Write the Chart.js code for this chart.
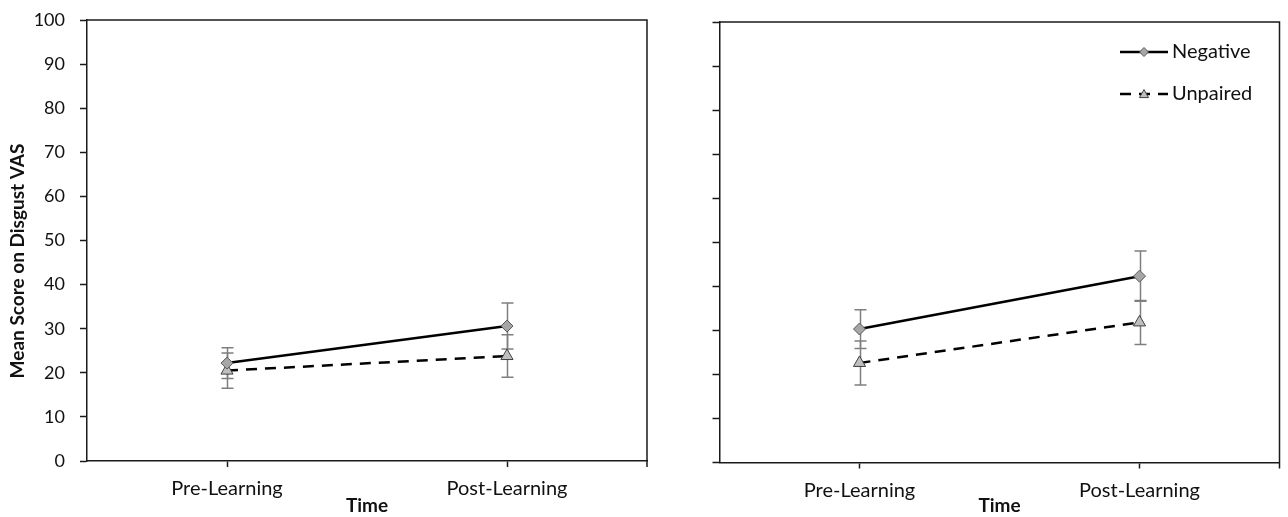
<!DOCTYPE html>
<html><head><meta charset="utf-8">
<script src="https://cdn.jsdelivr.net/npm/chart.js@4"></script>
<style>
html,body{margin:0;padding:0;background:#fff;width:1288px;height:517px;overflow:hidden;}
canvas{position:absolute;top:0;}
#c1{left:0;} #c2{left:660px;}
</style></head><body>
<canvas id="c1" width="660" height="517"></canvas>
<canvas id="c2" width="628" height="517"></canvas>
<script>
const categories = ['Pre-Learning', 'Post-Learning'];
const seriesNames = ['Negative', 'Unpaired'];
const yTicks = [0,10,20,30,40,50,60,70,80,90,100];
const leftNegative = [22.2, 30.6];
const leftUnpaired = [20.5, 23.8];
const leftNegativeErr = [3.5, 5.2];
const leftUnpairedErr = [4.0, 4.8];
const rightNegative = [30.3, 42.3];
const rightUnpaired = [22.6, 31.8];
const rightNegativeErr = [4.4, 5.7];
const rightUnpairedErr = [5.0, 5.0];
const yTitle = 'Mean Score on Disgust VAS';
const xTitle = 'Time';

const FONT = 'Lato';
const AX = '#1a1a1a';

const errorBars = {
  id: 'errorBars',
  beforeDatasetsDraw(chart) {
    const ctx = chart.ctx, y = chart.scales.y;
    ctx.save();
    ctx.strokeStyle = '#7f7f7f';
    ctx.lineWidth = 1.5;
    chart.data.datasets.forEach((ds, i) => {
      const meta = chart.getDatasetMeta(i);
      meta.data.forEach((pt, j) => {
        const v = ds.data[j], e = ds.err[j];
        const x = Math.round(pt.x) + 0.5;
        const yt = y.getPixelForValue(v + e), yb = y.getPixelForValue(v - e);
        ctx.beginPath();
        ctx.moveTo(x, yt); ctx.lineTo(x, yb);
        ctx.moveTo(x - 6, yt); ctx.lineTo(x + 6, yt);
        ctx.moveTo(x - 6, yb); ctx.lineTo(x + 6, yb);
        ctx.stroke();
      });
    });
    ctx.restore();
  }
};

const frame = {
  id: 'frame',
  afterDraw(chart) {
    const {ctx, chartArea: a} = chart;
    ctx.save();
    ctx.strokeStyle = AX;
    ctx.lineWidth = 1.5;
    ctx.beginPath();
    ctx.moveTo(a.left, a.top); ctx.lineTo(a.right, a.top);
    ctx.lineTo(a.right, a.bottom + 6);
    ctx.stroke();
    ctx.restore();
  }
};

const yTitlePlugin = {
  id: 'yTitlePlugin',
  afterDraw(chart, args, opts) {
    if (!opts.text) return;
    const ctx = chart.ctx;
    ctx.save();
    ctx.translate(opts.x, opts.y);
    ctx.rotate(-Math.PI / 2);
    ctx.font = 'bold 19px ' + FONT;
    ctx.fillStyle = '#111';
    ctx.textAlign = 'center';
    ctx.textBaseline = 'middle';
    ctx.fillText(opts.text, 0, 0);
    ctx.restore();
  }
};

const legendPlugin = {
  id: 'legendPlugin',
  afterDraw(chart, args, opts) {
    if (!opts.show) return;
    const ctx = chart.ctx;
    chart.data.datasets.forEach((ds, i) => {
      const yy = opts.y + i * 42;
      const x0 = opts.x, x1 = opts.x + 48;
      ctx.save();
      ctx.strokeStyle = ds.borderColor;
      ctx.lineWidth = 2.5;
      ctx.setLineDash(ds.borderDash || []);
      ctx.beginPath(); ctx.moveTo(x0, yy); ctx.lineTo(x1, yy); ctx.stroke();
      ctx.setLineDash([]);
      ctx.fillStyle = ds.pointBackgroundColor;
      ctx.strokeStyle = ds.pointBorderColor;
      ctx.lineWidth = 1;
      const cx = (x0 + x1) / 2, r = 4.5;
      ctx.beginPath();
      if (ds.pointStyle === 'rectRot') {
        ctx.moveTo(cx, yy - r); ctx.lineTo(cx + r, yy); ctx.lineTo(cx, yy + r); ctx.lineTo(cx - r, yy);
      } else {
        ctx.moveTo(cx, yy - r); ctx.lineTo(cx + r, yy + r * 0.8); ctx.lineTo(cx - r, yy + r * 0.8);
      }
      ctx.closePath(); ctx.fill(); ctx.stroke();
      ctx.fillStyle = '#111';
      ctx.font = '20px ' + FONT;
      ctx.textAlign = 'left';
      ctx.textBaseline = 'middle';
      ctx.fillText(ds.label, x1 + 4, yy);
      ctx.restore();
    });
  }
};

function makeChart(id, neg, unp, negErr, unpErr, cfg) {
  return new Chart(document.getElementById(id), {
    type: 'line',
    data: {
      labels: categories,
      datasets: [
        { label: seriesNames[0], data: neg, err: negErr,
          borderColor: '#000', borderWidth: 2.5, pointStyle: 'rectRot', pointRadius: 6,
          pointBackgroundColor: '#a6a6a6', pointBorderColor: '#595959', pointBorderWidth: 1 },
        { label: seriesNames[1], data: unp, err: unpErr,
          borderColor: '#000', borderWidth: 2.5, borderDash: [11, 8], pointStyle: 'triangle', pointRadius: 7,
          pointBackgroundColor: '#bfbfbf', pointBorderColor: '#404040', pointBorderWidth: 1 }
      ]
    },
    options: {
      responsive: false, animation: false, devicePixelRatio: 1,
      layout: { padding: { top: cfg.top, right: cfg.right, left: 0, bottom: 0 } },
      plugins: {
        legend: { display: false }, tooltip: { enabled: false },
        yTitlePlugin: { text: cfg.yTitle, x: 18, y: 261 },
        legendPlugin: { show: cfg.legend, x: 460, y: 52 }
      },
      scales: {
        x: {
          type: 'category', offset: true,
          grid: { display: true, drawOnChartArea: false, offset: false, tickLength: 6, color: AX, tickWidth: 1.5 },
          border: { display: true, color: AX, width: 1.5 },
          ticks: { color: '#111', font: { family: FONT, size: 20 }, padding: 10, maxRotation: 0 },
          title: { display: true, text: xTitle, color: '#111', font: { family: FONT, size: 19, weight: 'bold' }, padding: { top: 0, bottom: 0 } },
          afterFit(s) { s.height = cfg.xh; s.paddingLeft = 0; s.paddingRight = 0; }
        },
        y: {
          min: 0, max: 100,
          afterBuildTicks(s) { s.ticks = yTicks.map(v => ({ value: v })); },
          grid: { display: true, drawOnChartArea: false, tickLength: 7, color: AX, tickWidth: 1.5 },
          border: { display: true, color: AX, width: 1.5 },
          ticks: { display: cfg.yLabels, color: '#111', font: { family: FONT, size: 18 }, padding: 15 },
          afterFit(s) { s.width = cfg.yw; s.paddingTop = 0; s.paddingBottom = 0; }
        }
      }
    },
    plugins: [errorBars, frame, yTitlePlugin, legendPlugin]
  });
}

makeChart('c1', leftNegative, leftUnpaired, leftNegativeErr, leftUnpairedErr,
  { top: 20, right: 13, xh: 56, yw: 87, yLabels: true, legend: false, yTitle: yTitle });
makeChart('c2', rightNegative, rightUnpaired, rightNegativeErr, rightUnpairedErr,
  { top: 22, right: 8.5, xh: 54.5, yw: 59.5, yLabels: false, legend: true, yTitle: '' });
</script>
</body></html>
